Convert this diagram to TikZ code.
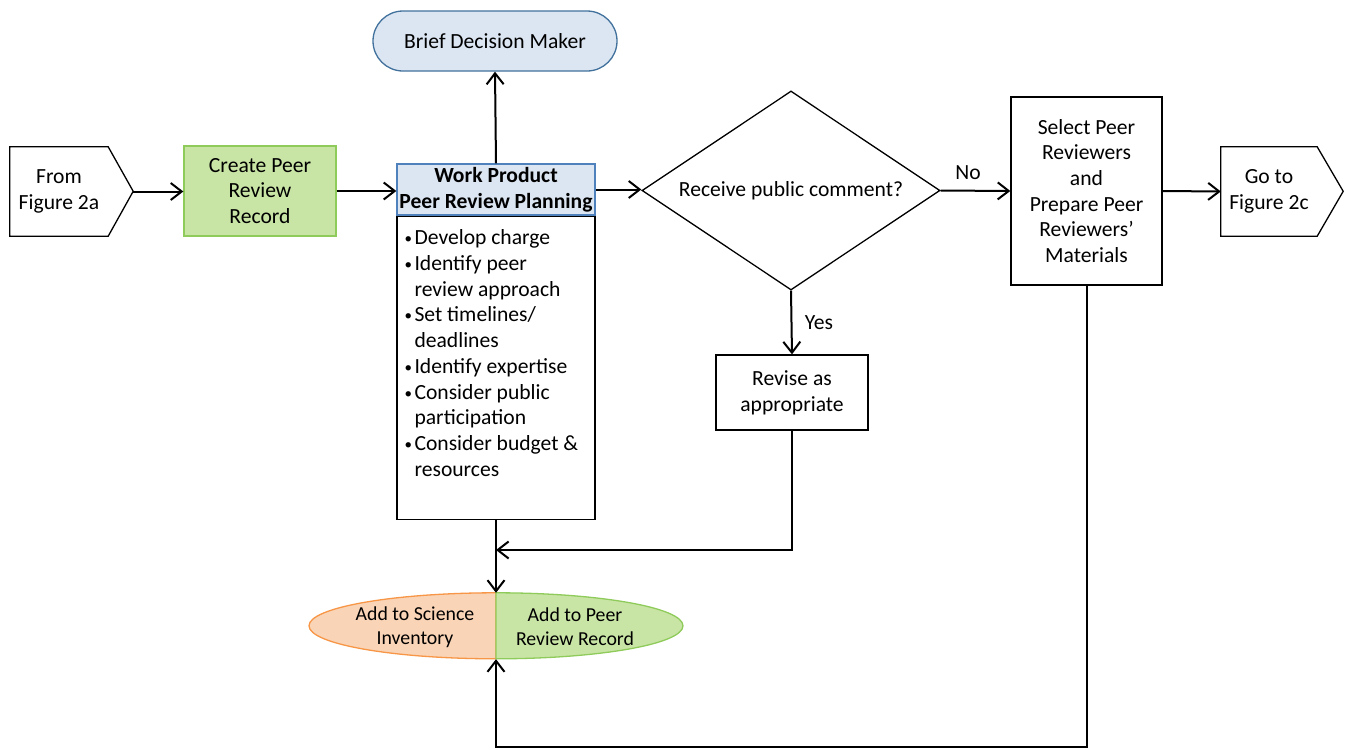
\documentclass[tikz,border=0pt]{standalone}
\usepackage{fontspec}
\setmainfont{Carlito}
\usetikzlibrary{shapes.geometric,arrows.meta,calc}
\definecolor{lblue}{HTML}{DCE6F2}
\definecolor{hdrblue}{HTML}{4F81BD}
\definecolor{bdmblue}{HTML}{41719C}
\definecolor{gfill}{HTML}{C9E5A6}
\definecolor{gline}{HTML}{8FCB5A}
\definecolor{ofill}{HTML}{FAD4B6}
\definecolor{oline}{HTML}{F79646}
\newcommand{\bul}{\hangindent=10pt\hangafter=1\noindent\hbox to 10pt{\raisebox{1pt}{\fontsize{15}{15}\selectfont\textbullet}\hss}}
\newcommand{\nl}{\hfil\break}
\begin{document}
\begin{tikzpicture}[x=1pt,y=-1pt,
  base/.style={font=\fontsize{21.6}{25.7}\selectfont, align=center, inner sep=0pt},
  box/.style={draw=black, line width=1.3pt},
  conn/.style={line width=2pt, -{Straight Barb[length=11pt,width=17pt,line width=2pt]}},
  lbl/.style={font=\fontsize{21.6}{25}\selectfont, inner sep=0pt}
]
\useasboundingbox (0,0) rectangle (1345,750);

% From Figure 2a
\node[base, minimum width=98, minimum height=89] (from) at (59,191.5) {From\\Figure 2a};
\draw[box] (from.north west) -- (from.north east) -- ++(25,44.5) -- (from.south east) -- (from.south west) -- cycle;
\coordinate (fromtip) at ($(from.east)+(25,0)$);

% Create Peer Review Record
\node[base, draw=gline, fill=gfill, line width=1.3pt, minimum width=152, minimum height=90] (create) at (260,191) {Create Peer\\Review\\Record};

% Work product planning
\node[base, draw=hdrblue, fill=lblue, line width=1.3pt, minimum width=198, minimum height=51, font=\fontsize{21.6}{25.7}\selectfont\bfseries] (wph) at (496,189.5) {Work Product\\Peer Review Planning};
\node[box, minimum width=198, minimum height=303, anchor=north, inner sep=0pt] (wpb) at (wph.south) {};
\node[anchor=north west, text width=190, align=left, inner sep=0pt, font=\fontsize{21.6}{25.7}\selectfont] (list) at ($(wpb.north west)+(8,14)$) {%
\spaceskip=0pt\xspaceskip=0pt
\bul Develop charge\par
\bul Identify peer\nl review approach\par
\bul Set timelines/\nl deadlines\par
\bul Identify expertise\par
\bul Consider public\nl participation\par
\bul Consider budget \&\nl resources\par};

% Brief Decision Maker
\node[base, draw=bdmblue, fill=lblue, line width=1.3pt, rounded corners=30, minimum width=244, minimum height=60] (bdm) at (495,41) {Brief Decision Maker};

% Decision
\node[base, diamond, box, aspect=1.5, minimum width=298, minimum height=199] (dec) at (791,190.5) {Receive public comment?};

% Select Peer Reviewers
\node[base, box, minimum width=151, minimum height=188] (sel) at (1086.5,191) {Select Peer\\Reviewers\\and\\Prepare Peer\\Reviewers’\\Materials};

% Go to Figure 2c
\node[base, minimum width=96, minimum height=89] (goto) at (1269,191.5) {Go to\\Figure 2c};
\draw[box] (goto.north west) -- (goto.north east) -- ++(26,44.5) -- (goto.south east) -- (goto.south west) -- cycle;

% Revise
\node[base, box, minimum width=152, minimum height=75] (rev) at (792,392.5) {Revise as\\appropriate};

% Add to inventory / record
\node[ellipse, minimum width=374, minimum height=66, inner sep=0pt] (add) at (496,626) {};
\filldraw[fill=ofill, draw=oline, line width=1.3pt] (add.north) arc[start angle=-90, end angle=-270, x radius=187, y radius=33] -- cycle;
\filldraw[fill=gfill, draw=gline, line width=1.3pt] (add.north) arc[start angle=-90, end angle=90, x radius=187, y radius=33] -- cycle;
\node[base, font=\fontsize{19.8}{24}\selectfont] (sci) at (415,627) {Add to Science\\Inventory};
\node[base, font=\fontsize{19.8}{24}\selectfont] (prr) at (575,627) {Add to Peer\\Review Record};

% Coordinates
\coordinate (merge) at (496,550);
\coordinate (botc) at (496,747);

% Connectors
\draw[conn] (fromtip) -- (fromtip -| create.west);
\draw[conn] (create.east) -- (create.east -| wph.west);
\draw[conn] (wph.north) -- (bdm.south);
\draw[conn] (wph.east) -- (wph.east -| dec.west);
\draw[conn] (dec.east) -- (sel.west);
\node[lbl] (no) at (968,173) {No};
\draw[conn] (sel.east) -- (goto.west);
\draw[conn] (dec.south) -- (rev.north);
\node[lbl] (yes) at (819,323) {Yes};
\draw[conn] (rev.south) |- (merge);
\draw[conn] (wpb.south) -- (add.north);
\draw[conn] (sel.south) |- (botc) -- (add.south);
\end{tikzpicture}
\end{document}
